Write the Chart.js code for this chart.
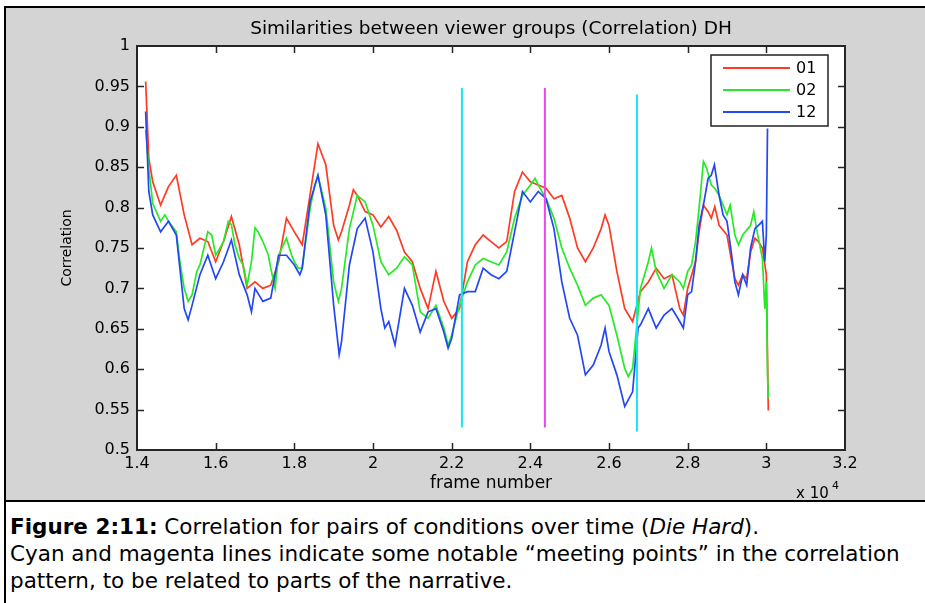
<!DOCTYPE html>
<html>
<head>
<meta charset="utf-8">
<script src="https://cdn.jsdelivr.net/npm/chart.js@4.4.0/dist/chart.umd.min.js"></script>
<style>
  html, body { margin: 0; padding: 0; background: #fff; }
  body { width: 925px; height: 603px; position: relative; overflow: hidden; font-family: "DejaVu Sans", Verdana, sans-serif; }
  #frame { position: absolute; left: 4px; top: 6px; width: 921px; height: 597px; border-left: 2px solid #000; border-top: 2px solid #000; box-sizing: border-box; }
  #figure { position: absolute; left: 0; top: 0; right: 0; height: 492px; background: #d4d4d4; border-bottom: 2px solid #000; }
  #caption { position: absolute; left: 4px; top: 505px; font-size: 21.5px; line-height: 27px; color: #000; white-space: nowrap; }
  #chartBox { position: absolute; left: 0; top: 0; width: 925px; height: 500px; z-index: 2; }
</style>
</head>
<body>
<div id="frame">
  <div id="figure"></div>
  <div id="caption"><b>Figure 2:11:</b> Correlation for pairs of conditions over time (<i>Die Hard</i>).<br>Cyan and magenta lines indicate some notable “meeting points” in the correlation<br>pattern, to be related to parts of the narrative.</div>
</div>
<div id="chartBox"><canvas id="chart" width="925" height="500"></canvas></div>
<script>
const FONT = "'DejaVu Sans', Verdana, sans-serif";

// tick positions (frame numbers) and correlation ticks
const xTicks = [14000, 16000, 18000, 20000, 22000, 24000, 26000, 28000, 30000, 32000];
const yTicks = [0.5, 0.55, 0.6, 0.65, 0.7, 0.75, 0.8, 0.85, 0.9, 0.95, 1];

// pair 01
const frames01 = [14220,14300,14400,14600,14800,15000,15200,15400,15600,15800,16000,16200,16400,16600,16800,17000,17200,17400,17600,17800,
  18000,18200,18400,18600,18800,19000,19120,19200,19400,19500,19600,19800,20000,20200,20400,20600,20800,21000,21200,21400,
  21600,21800,22000,22200,22400,22600,22800,23000,23200,23400,23600,23800,24000,24200,24400,24600,24800,25000,25200,25400,
  25600,25800,25900,26000,26200,26400,26600,26800,27000,27200,27400,27600,27800,27890,28000,28200,28290,28400,28520,28600,
  28690,28800,29000,29120,29200,29290,29400,29500,29600,29710,29800,29900,30000,30050];
const corr01 = [0.956,0.861,0.832,0.803,0.826,0.840,0.791,0.754,0.762,0.758,0.733,0.758,0.789,0.754,0.700,0.708,0.700,0.704,0.733,0.787,
  0.770,0.754,0.816,0.879,0.853,0.778,0.760,0.770,0.803,0.822,0.815,0.795,0.791,0.776,0.789,0.772,0.745,0.733,0.700,0.675,
  0.721,0.684,0.663,0.675,0.733,0.754,0.766,0.758,0.750,0.758,0.820,0.844,0.832,0.828,0.824,0.811,0.815,0.787,0.750,0.733,
  0.750,0.774,0.791,0.778,0.721,0.675,0.659,0.696,0.708,0.725,0.712,0.717,0.675,0.667,0.700,0.733,0.770,0.803,0.795,0.787,
  0.801,0.778,0.766,0.733,0.712,0.704,0.717,0.712,0.745,0.762,0.758,0.750,0.717,0.549];

// pair 02
const frames02 = [14220,14300,14400,14600,14710,14800,15000,15090,15200,15300,15400,15520,15600,15800,15900,16000,16110,16200,16320,16400,
  16490,16600,16700,16800,16910,17000,17080,17200,17340,17400,17510,17600,17720,17800,17930,18000,18100,18200,18310,18400,
  18520,18600,18800,19000,19120,19200,19400,19600,19800,20000,20200,20400,20600,20800,21000,21200,21400,21600,21800,21910,
  22000,22200,22400,22600,22800,23000,23200,23400,23600,23800,24000,24120,24200,24400,24600,24800,25000,25200,25400,25600,
  25800,26000,26200,26400,26490,26600,26800,27000,27080,27200,27400,27600,27800,27890,28000,28100,28200,28290,28400,28480,
  28600,28690,28800,29000,29080,29200,29290,29400,29600,29680,29750,29900,29960,30000,30030,30050];
const corr02 = [0.896,0.849,0.805,0.783,0.791,0.783,0.770,0.733,0.700,0.684,0.692,0.721,0.729,0.770,0.766,0.741,0.750,0.758,0.783,0.779,
  0.754,0.737,0.729,0.704,0.733,0.775,0.770,0.758,0.741,0.725,0.700,0.741,0.754,0.762,0.741,0.733,0.725,0.725,0.766,0.799,
  0.828,0.840,0.799,0.708,0.684,0.700,0.774,0.815,0.807,0.778,0.733,0.717,0.725,0.739,0.729,0.671,0.663,0.679,0.651,0.630,
  0.642,0.679,0.708,0.729,0.737,0.733,0.729,0.745,0.787,0.815,0.828,0.836,0.828,0.811,0.787,0.750,0.725,0.704,0.679,0.688,
  0.692,0.679,0.642,0.601,0.591,0.601,0.700,0.733,0.750,0.721,0.700,0.717,0.708,0.700,0.721,0.729,0.758,0.799,0.857,0.849,
  0.828,0.824,0.815,0.791,0.803,0.766,0.754,0.766,0.778,0.795,0.774,0.737,0.675,0.708,0.593,0.564];

// pair 12
const frames12 = [14220,14300,14400,14600,14800,15000,15200,15300,15400,15600,15800,16000,16200,16400,16600,16800,16910,17000,17200,17400,
  17600,17800,18000,18140,18200,18400,18600,18800,19000,19140,19200,19400,19600,19800,20000,20200,20300,20400,20560,20800,
  21000,21200,21400,21600,21800,21910,22000,22200,22400,22600,22800,23000,23200,23400,23600,23800,24000,24200,24400,24600,
  24800,25000,25200,25400,25600,25800,25900,26000,26200,26400,26600,26740,26800,27000,27200,27400,27600,27800,27890,28000,
  28100,28200,28290,28400,28520,28600,28680,28800,28900,29000,29120,29200,29290,29400,29500,29600,29710,29800,29900,29960,
  30000,30030];
const corr12 = [0.919,0.820,0.791,0.770,0.783,0.766,0.675,0.661,0.679,0.717,0.741,0.712,0.733,0.760,0.717,0.692,0.671,0.700,0.684,0.688,
  0.741,0.741,0.729,0.717,0.725,0.807,0.840,0.791,0.679,0.618,0.634,0.729,0.774,0.787,0.745,0.675,0.651,0.659,0.630,0.700,
  0.679,0.646,0.671,0.675,0.646,0.626,0.638,0.692,0.696,0.696,0.725,0.717,0.712,0.721,0.770,0.820,0.807,0.820,0.811,0.774,
  0.708,0.663,0.642,0.593,0.605,0.630,0.651,0.622,0.593,0.554,0.572,0.651,0.655,0.675,0.651,0.667,0.675,0.659,0.651,0.692,
  0.696,0.733,0.778,0.803,0.836,0.840,0.853,0.815,0.791,0.783,0.741,0.708,0.692,0.717,0.704,0.750,0.774,0.778,0.783,0.733,
  0.766,0.898];

// "meeting point" markers
const markerFrames = [22260, 24370, 26710];
const markerTop = [0.948, 0.948, 0.940];
const markerBottom = [0.528, 0.528, 0.523];
const markerColors = ['#12e6ee', '#ee44ee', '#12e6ee'];

const toPoints = (xs, ys) => xs.map((x, i) => ({ x: x, y: ys[i] }));

const datasets = [
  { label: '01', data: toPoints(frames01, corr01), borderColor: '#ff3a22', order: 3 },
  { label: '02', data: toPoints(frames02, corr02), borderColor: '#26ea26', order: 2 },
  { label: '12', data: toPoints(frames12, corr12), borderColor: '#2447f5', order: 1 }
].map(d => Object.assign(d, { borderWidth: 1.7, pointRadius: 0, tension: 0, fill: false }));

markerFrames.forEach((f, i) => {
  datasets.push({
    label: 'marker', isMarker: true,
    data: [{ x: f, y: markerBottom[i] }, { x: f, y: markerTop[i] }],
    borderColor: markerColors[i], borderWidth: 2, pointRadius: 0, order: 0
  });
});

const matlabFrame = {
  id: 'matlabFrame',
  beforeDraw(chart) {
    const { ctx, chartArea: ca } = chart;
    ctx.save();
    ctx.fillStyle = '#fff';
    ctx.fillRect(ca.left, ca.top, ca.width, ca.height);
    ctx.restore();
  },
  afterDatasetsDraw(chart) {
    const { ctx, chartArea: ca, scales } = chart;
    ctx.save();
    ctx.strokeStyle = '#262626';
    ctx.lineWidth = 1.5;
    // ticks pointing inward on all four sides
    ctx.beginPath();
    xTicks.slice(1, -1).forEach(v => {
      const px = Math.round(scales.x.getPixelForValue(v)) + 0.5;
      ctx.moveTo(px, ca.bottom); ctx.lineTo(px, ca.bottom - 7);
      ctx.moveTo(px, ca.top); ctx.lineTo(px, ca.top + 7);
    });
    yTicks.slice(1, -1).forEach(v => {
      const py = Math.round(scales.y.getPixelForValue(v)) + 0.5;
      ctx.moveTo(ca.left, py); ctx.lineTo(ca.left + 7, py);
      ctx.moveTo(ca.right, py); ctx.lineTo(ca.right - 7, py);
    });
    ctx.stroke();
    ctx.lineWidth = 2;
    ctx.strokeRect(ca.left, ca.top, ca.width, ca.height);

    // legend box
    const series = chart.data.datasets.filter(d => !d.isMarker);
    const bx = ca.right - 134, by = ca.top + 9, bw = 117, bh = 71;
    ctx.fillStyle = '#fff';
    ctx.fillRect(bx, by, bw, bh);
    ctx.lineWidth = 1.5;
    ctx.strokeStyle = '#222';
    ctx.strokeRect(bx, by, bw, bh);
    ctx.font = '16px ' + FONT;
    ctx.textBaseline = 'middle';
    ctx.textAlign = 'left';
    series.forEach((d, i) => {
      const ly = by + 13 + i * 22;
      ctx.strokeStyle = d.borderColor;
      ctx.lineWidth = 1.8;
      ctx.beginPath();
      ctx.moveTo(bx + 12, ly); ctx.lineTo(bx + 79, ly);
      ctx.stroke();
      ctx.fillStyle = '#000';
      ctx.fillText(d.label, bx + 85, ly + 1);
    });

    // axis exponent
    ctx.fillStyle = '#000';
    ctx.textBaseline = 'alphabetic';
    ctx.font = '15px ' + FONT;
    ctx.fillText('x 10', 796, 498);
    ctx.font = '11px ' + FONT;
    ctx.fillText('4', 832, 489);
    ctx.restore();
  }
};

new Chart(document.getElementById('chart'), {
  type: 'line',
  data: { datasets: datasets },
  options: {
    responsive: false,
    animation: false,
    devicePixelRatio: 1,
    layout: { padding: { left: 0, right: 80, top: 0, bottom: 0 } },
    plugins: {
      legend: { display: false },
      tooltip: { enabled: false },
      title: {
        display: true,
        fullSize: false,
        text: 'Similarities between viewer groups (Correlation) DH',
        color: '#000',
        font: { family: FONT, size: 18.5, weight: 'normal', lineHeight: 1.2 },
        padding: { top: 18, bottom: 5.8 }
      }
    },
    scales: {
      x: {
        type: 'linear',
        min: 14000,
        max: 32000,
        afterBuildTicks: s => { s.ticks = xTicks.map(v => ({ value: v })); },
        afterFit: s => { s.height = 50; },
        grid: { display: false, drawTicks: false },
        border: { display: false },
        ticks: {
          color: '#000', padding: 4, maxRotation: 0, autoSkip: false,
          font: { family: FONT, size: 16 },
          callback: v => String(+(v / 10000).toFixed(1))
        },
        title: {
          display: true, text: 'frame number', color: '#000',
          font: { family: FONT, size: 17, lineHeight: 1.2 },
          padding: { top: 0, bottom: 6 }
        }
      },
      y: {
        min: 0.5,
        max: 1,
        afterBuildTicks: s => { s.ticks = yTicks.map(v => ({ value: v })); },
        afterFit: s => { s.width = 137; },
        grid: { display: false, drawTicks: false },
        border: { display: false },
        ticks: {
          color: '#000', padding: 7, autoSkip: false,
          font: { family: FONT, size: 16 },
          callback: v => String(+v.toFixed(2))
        },
        title: {
          display: true, text: 'Correlation', color: '#000',
          font: { family: FONT, size: 14, lineHeight: 1.2 },
          padding: { top: 59, bottom: 0 }
        }
      }
    }
  },
  plugins: [matlabFrame]
});
</script>
</body>
</html>
